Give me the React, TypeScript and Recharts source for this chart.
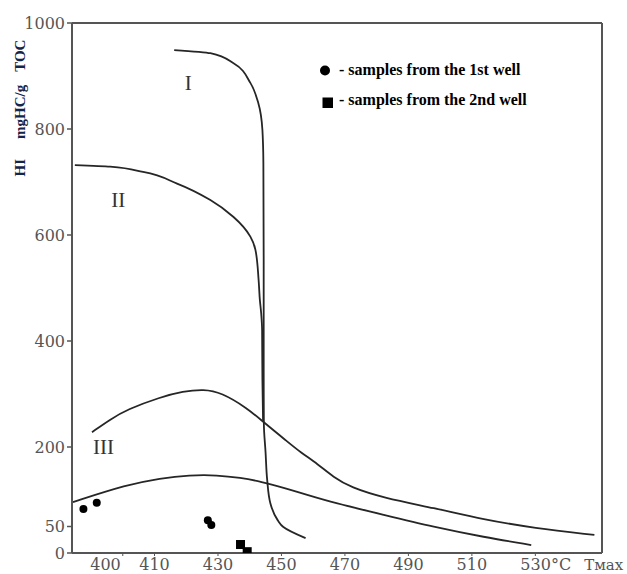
import React from "react";
import {
  ComposedChart,
  Line,
  Scatter,
  XAxis,
  YAxis,
  ReferenceLine,
  ReferenceDot,
} from "recharts";

// Tmax (°C) / HI (mgHC/g TOC)
const X_TICKS = [400, 410, 430, 450, 470, 490, 510, 530];
const Y_TICKS = [0, 50, 200, 400, 600, 800, 1000];

const CURVE_I: [number, number][] = [
  [416.2, 949], [427.6, 943], [434.9, 924], [440.2, 887], [442.7, 849],
  [444.0, 798], [444.3, 736], [444.4, 553], [444.4, 345], [444.45, 245],
  [445.0, 189], [445.5, 138], [446.5, 94], [448.8, 62], [450.6, 49], [457.6, 28],
];
const CURVE_II: [number, number][] = [
  [384.9, 732], [396.0, 729], [406.4, 719], [417.1, 697], [427.6, 666],
  [434.9, 634], [440.2, 597], [441.8, 572], [442.8, 515], [443.2, 477],
  [443.6, 453], [443.9, 421], [444.0, 326], [444.2, 251],
];
const CURVE_III: [number, number][] = [
  [390.3, 228], [396.0, 252], [401.4, 271], [411.8, 294], [419.0, 305],
  [425.5, 309], [431.0, 303], [439.3, 273], [444.3, 247], [451.9, 210],
  [456.0, 190], [461.4, 168], [466.4, 143], [471.8, 124], [482.2, 104],
  [498.0, 85], [513.8, 63], [529.6, 47], [548.6, 34],
];
const CURVE_LOW: [number, number][] = [
  [384.3, 96], [401.4, 129], [411.8, 141], [421.0, 147], [429.8, 147],
  [437.1, 142], [443.4, 135], [451.9, 121], [458.0, 110], [466.4, 95],
  [482.2, 72], [498.0, 49], [513.8, 30], [528.7, 15],
];
const WELL_1: [number, number][] = [[387.6, 83], [391.8, 95], [426.8, 62], [427.9, 53]];
const WELL_2: [number, number][] = [[437.1, 16], [439.2, 2.5]];

const CURVE_NAMES = ["I", "II", "III"];
const CURVE_NAME_AT: [number, number][] = [[420.6, 887], [398.6, 667], [393.9, 201]];

const X_DOMAIN: [number, number] = [384, 551];
const AXIS = "#555";
const INK = "#262626";

const pts = (a: [number, number][]) => a.map(([x, y]) => ({ x, y }));

const XTick = (props: any) => {
  const { x, y, payload } = props;
  const v = payload.value;
  const style = { fill: "#555", fontSize: 16, fontFamily: "DejaVu Serif" };
  if (v === X_TICKS[0]) {
    // first label sits a little left of its tick, as in the original
    return (
      <text x={x - 2} y={y} dy="0.71em" textAnchor="end" {...style}>
        {v}
      </text>
    );
  }
  if (v === X_TICKS[X_TICKS.length - 1]) {
    return (
      <text x={x - 15} y={y} dy="0.71em" textAnchor="start" {...style}>
        {v}°C
        <tspan dx={13} fontSize={15}>Тмах</tspan>
      </text>
    );
  }
  return (
    <text x={x} y={y} dy="0.71em" textAnchor="middle" {...style}>
      {v}
    </text>
  );
};

const Dot = (props: any) => <circle cx={props.cx} cy={props.cy} r={4} fill="#000" />;
const Box = (props: any) => (
  <rect x={props.cx - 4.5} y={props.cy - 4.5} width={9} height={9} fill="#000" />
);

export default function App() {
  return (
    <div style={{ position: "absolute", left: 0, top: 0, width: 627, height: 574, background: "#fff" }}>
      <ComposedChart width={627} height={574} margin={{ top: 23, right: 25, bottom: 0, left: 0 }}>
        <XAxis
          dataKey="x"
          type="number"
          domain={X_DOMAIN}
          allowDataOverflow
          ticks={X_TICKS}
          interval={0}
          height={21}
          tickSize={3}
          tickMargin={3}
          tick={XTick}
          axisLine={{ stroke: AXIS, strokeWidth: 2 }}
          tickLine={{ stroke: AXIS }}
        />
        <YAxis
          dataKey="y"
          type="number"
          domain={[0, 1000]}
          allowDataOverflow
          ticks={Y_TICKS}
          interval={0}
          width={72}
          tickSize={5}
          tickMargin={2}
          tick={{ fill: "#555", fontSize: 16, fontFamily: "DejaVu Serif" }}
          axisLine={{ stroke: AXIS, strokeWidth: 2 }}
          tickLine={{ stroke: AXIS, strokeWidth: 1.5 }}
        />
        <ReferenceLine y={1000} stroke={AXIS} strokeWidth={2} />
        <ReferenceLine x={X_DOMAIN[1]} stroke={AXIS} strokeWidth={2} />

        <Line data={pts(CURVE_I)} dataKey="y" type="monotoneY" stroke={INK} strokeWidth={1.8} dot={false} isAnimationActive={false} />
        <Line data={pts(CURVE_II)} dataKey="y" type="monotoneY" stroke={INK} strokeWidth={1.8} dot={false} isAnimationActive={false} />
        <Line data={pts(CURVE_III)} dataKey="y" type="basis" stroke={INK} strokeWidth={1.8} dot={false} isAnimationActive={false} />
        <Line data={pts(CURVE_LOW)} dataKey="y" type="basis" stroke={INK} strokeWidth={1.8} dot={false} isAnimationActive={false} />

        <Scatter data={pts(WELL_1)} shape={Dot} isAnimationActive={false} />
        <Scatter data={pts(WELL_2)} shape={Box} isAnimationActive={false} />

        {CURVE_NAMES.map((name, i) => (
          <ReferenceDot
            key={name}
            x={CURVE_NAME_AT[i][0]}
            y={CURVE_NAME_AT[i][1]}
            r={0}
            fill="none"
            stroke="none"
            label={{ value: name, position: "center", fill: "#333", fontSize: 21, fontFamily: "Liberation Serif" }}
          />
        ))}
      </ComposedChart>

      {/* axis title + legend */}
      <svg width={627} height={574} style={{ position: "absolute", left: 0, top: 0, pointerEvents: "none" }}>
        <text
          transform="translate(25,108) rotate(-90)"
          textAnchor="middle"
          fill="#14244a"
          fontFamily="Liberation Serif"
          fontWeight="bold"
          fontSize={15}
        >
          <tspan>HI</tspan>
          <tspan dx={20}>mgHC/g</tspan>
          <tspan dx={13}>TOC</tspan>
        </text>
        <g fontFamily="Liberation Serif" fontWeight="bold" fontSize={16} fill="#000">
          <circle cx={325} cy={70.5} r={5} />
          <text x={339} y={75}>- samples from the 1st well</text>
          <rect x={322.5} y={97.5} width={10.5} height={10.5} />
          <text x={339} y={105}>- samples from the 2nd well</text>
        </g>
      </svg>
    </div>
  );
}
